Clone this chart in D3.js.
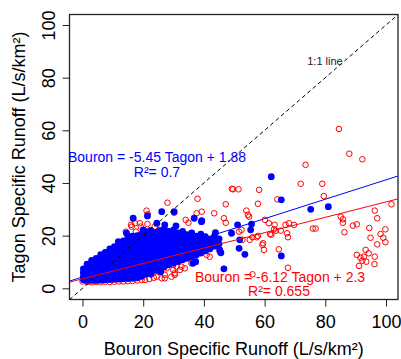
<!DOCTYPE html>
<html><head><meta charset="utf-8">
<script src="https://cdn.jsdelivr.net/npm/d3@7"></script>
<style>body{margin:0;background:#fff}svg{display:block}text{font-family:"Liberation Sans",Arial,sans-serif}</style>
</head><body>
<svg id="c" width="401" height="359"></svg>
<script>
const xTicks = [0, 20, 40, 60, 80, 100];
const yTicks = [0, 20, 40, 60, 80, 100];
const xTitle = "Bouron Specific Runoff (L/s/km²)";
const yTitle = "Tagon Specific Runoff (L/s/km²)";
const blueEq = ["Bouron = -5.45 Tagon + 1.88", "R²= 0.7"];
const redEq = ["Bouron = -6.12 Tagon + 2.3", "R²= 0.655"];
const blueFit = [4.3, 0.369];   // intercept, slope as drawn
const redFit = [3.6, 0.292];

const redPoints = [
[84.5,60.5],[87.9,51.1],[92.2,49.0],[79.0,39.7],[79.5,35.0],[101.8,31.9],[96.3,29.5],[85.1,27.2],[85.8,26.2],[85.8,24.9],[97.1,26.6],[76.8,22.7],[86.3,21.3],[89.1,23.8],[90.4,24.3],[94.5,22.9],[99.8,22.4],[98.2,20.6],[99.1,19.2],[94.9,19.2],[97.1,16.7],[99.8,17.5],[93.3,14.6],[90.4,12.7],[91.6,11.6],[92.7,12.0],[94.3,13.3],[96.3,12.0],[92.2,10.5],[93.5,10.1],[91.1,8.5],[96.2,9.2],
[73.5,46.9],[71.9,39.7],[51.4,37.6],[49.6,37.6],[58.2,37.4],[64.2,33.8],[57.8,32.1],[54.0,29.5],[54.5,27.9],[60.1,26.0],[61.4,24.7],[68.0,24.7],[66.9,24.1],[69.7,24.1],[51.6,21.5],[63.1,22.4],[63.7,21.9],[65.3,21.9],[67.7,19.4],[75.9,22.7],[61.8,20.6],[57.4,19.4],[56.0,19.4],[55.1,18.4],[52.7,18.4],[59.3,16.5],[59.8,14.6],[64.7,14.8],[67.7,7.8],[56.0,5.3],
[28.0,32.5],[37.9,34.0],[47.2,31.9],[49.2,37.8],[30.2,28.7],[43.4,28.5],[39.3,29.1],[34.0,26.0],[34.9,24.9],[46.6,26.6],[47.2,24.9],[21.5,28.1],[21.4,24.4],[54.9,27.2],[52.4,22.2],[57.8,19.9],[59.5,17.1],[63.3,24.1],[67.4,20.9],[62.2,20.3],
[21.1,29.5],[18.9,24.7],[16.2,23.4],[17.3,24.7],[14.3,21.5],[23.8,23.4],[25.3,22.2],[32.1,18.4],[23.3,14.6],[37.6,28.5],[16.0,24.1],[17.6,21.5],[19.2,23.4],[19.8,19.6],[14.9,19.0],[12.7,16.1],[20.3,17.1],
[0.0,2.6],[0.3,3.8],[0.6,5.0],[1.5,8.0],[1.5,2.4],[3,2.3],[4.5,2.4],[6,2.3],[7.5,2.5],[9,2.4],[10.5,2.5],[12,2.6],[13.5,2.6],[15,2.7],[16.5,2.8],[18,3.0],[19.5,3.2],[20.6,3.2],[22,3.5],[23.5,4.0],[24.4,4.4],[26.1,3.8],[27.1,3.8],[29.3,4.4],[30.4,5.1],[30.4,5.7],[27.1,5.1],[25.5,6.3],[32.1,7.0],[29.9,7.0],[31.0,8.2],[32.6,8.2],[23.8,8.2],[24.9,8.9],[26.1,8.2],[26.6,9.5],[27.7,7.6],[29.9,8.9],[31.0,10.1],[32.6,10.8],[35.9,9.5],[33.7,7.6],[36.4,13.3],[40.9,12.7],[41.9,12.0],[45.2,13.9]
];

const blueOutliers = [
[62.2,42.4],[65.5,33.6],[75.2,30.0],[81.0,31.0],[51.1,24.1],[55.7,24.4],[55.4,22.2],[51.8,18.4],[51.6,15.2],[53.5,12.9],[65.5,12.3],[43.8,21.1],[49.1,20.9],[39.2,25.3],[45.2,14.6],[39.2,13.9],[46.6,7.4],[26.1,29.1],[30.2,29.1],[36.8,26.6],[39.3,25.7],[16.7,26.6],[11.8,17.7],[14.5,20.9],[20.0,22.2],[21.4,27.5],[27.1,24.1],[24.5,24.7],[30.8,23.7],[36.2,18.4],[41.2,18.1],[39.5,15.8],[45.6,13.5],[32.4,13.3],[36.8,12.7],[37.3,10.1],[36.4,9.5],[22.5,5.4],[25.8,6.3],[21.4,11.4]
];

// dense cluster, one entry per Bouron value: [x, [Tagon values]]
const blueCluster = [
[0.3,[3.2,4.6,6.0,7.4]],
[1.5,[3.0,4.6,6.2,7.8,9.2]],
[3.0,[3.0,4.6,6.2,7.8,9.4,10.6]],
[4.5,[3.0,4.7,6.4,8.1,9.8,11.4]],
[6.0,[3.1,4.8,6.5,8.2,9.9,11.6,12.8]],
[7.5,[3.2,4.9,6.6,8.3,10.0,11.7,13.6]],
[9.0,[3.3,5.0,6.8,8.6,10.4,12.2,14.0,15.0]],
[10.5,[3.4,5.2,7.0,8.8,10.6,12.4,14.2,15.8]],
[12.0,[3.5,5.3,7.1,8.9,10.7,12.5,14.3,16.1,17.4]],
[13.5,[3.6,5.4,7.2,9.0,10.8,12.6,14.4,16.2,18.0]],
[15.0,[3.7,5.5,7.3,9.1,10.9,12.7,14.5,16.3,18.1,19.6]],
[16.5,[3.8,5.6,7.4,9.2,11.0,12.8,14.6,16.4,18.2,19.8]],
[18.0,[4.0,5.8,7.6,9.4,11.2,13.0,14.8,16.6,18.4,20.0]],
[19.5,[4.5,6.3,8.1,9.9,11.7,13.5,15.3,17.1,18.9,20.6]],
[21.0,[5.5,7.3,9.1,10.9,12.7,14.5,16.3,18.1,19.9,21.5]],
[22.5,[6.0,7.8,9.6,11.4,13.2,15.0,16.8,18.6,20.4,22.0]],
[24.0,[6.8,8.6,10.4,12.2,14.0,15.8,17.6,19.4,21.2]],
[25.5,[7.5,9.3,11.1,12.9,14.7,16.5,18.3,20.1,21.9]],
[27.0,[8.2,10.0,11.8,13.6,15.4,17.2,19.0,20.8,22.6]],
[28.5,[9.0,10.8,12.6,14.4,16.2,18.0,19.8,21.6]],
[30.0,[9.6,11.4,13.2,15.0,16.8,18.6,20.4,22.2]],
[31.5,[10.2,12.0,13.8,15.6,17.4,19.2,21.0]],
[33.0,[10.8,12.6,14.4,16.2,18.0,19.8,21.6]],
[34.5,[11.4,13.2,15.0,16.8,18.6,20.4]],
[36.0,[12.0,13.8,15.6,17.4,19.2,21.0]],
[37.5,[12.6,14.4,16.2,18.0,19.8]],
[39.0,[13.4,15.2,17.0,18.8,20.6]],
[40.5,[14.2,16.0,17.8,19.6]],
[42.0,[15.0,16.8,18.6]],
[43.5,[16.0,17.8,19.8]],
[45.0,[16.8,18.8]]
];

const bluePoints = blueOutliers.concat(blueCluster.flatMap(([x, ys]) => ys.map(y => [x, y])));

const svg = d3.select("#c");
const x = d3.scaleLinear().domain([0, 100]).range([82.5, 386]);
const y = d3.scaleLinear().domain([0, 100]).range([288.3, 25]);
const L = 69.5, R = 398, T = 14.5, B = 299.5;
const xmin = x.invert(L), xmax = x.invert(R);

svg.append("defs").append("clipPath").attr("id","clip")
  .append("rect").attr("x",L).attr("y",T).attr("width",R-L).attr("height",B-T);

const g = svg.append("g").attr("clip-path","url(#clip)");

g.selectAll("circle.r").data(redPoints).join("circle").attr("class","r")
  .attr("cx",d=>x(d[0])).attr("cy",d=>y(d[1])).attr("r",2.8)
  .attr("fill","none").attr("stroke","#ff0000").attr("stroke-width",1);

g.selectAll("circle.b").data(bluePoints).join("circle").attr("class","b")
  .attr("cx",d=>x(d[0])).attr("cy",d=>y(d[1])).attr("r",3.4)
  .attr("fill","#0000ff");

// 1:1 line
g.append("line").attr("x1",x(xmin)).attr("y1",y(xmin)).attr("x2",x(xmax)).attr("y2",y(xmax))
  .attr("stroke","#000").attr("stroke-width",1).attr("stroke-dasharray","4,3");
// fits
[[blueFit,"#0000ff"],[redFit,"#ff0000"]].forEach(([f,c])=>{
  g.append("line").attr("x1",x(xmin)).attr("y1",y(f[0]+f[1]*xmin))
   .attr("x2",x(xmax)).attr("y2",y(f[0]+f[1]*xmax))
   .attr("stroke",c).attr("stroke-width",1);
});

// box
svg.append("rect").attr("x",L).attr("y",T).attr("width",R-L).attr("height",B-T)
  .attr("fill","none").attr("stroke","#222").attr("stroke-width",1.3);

// axes
const xa = svg.append("g").attr("transform",`translate(0,${B})`)
  .call(d3.axisBottom(x).tickValues(xTicks).tickSize(7).tickPadding(0).tickFormat(d3.format("d")));
xa.select(".domain").remove();
xa.selectAll("line").attr("stroke","#222");
xa.selectAll("text").attr("font-size",18).attr("fill","#000").attr("dy",null).attr("y",28.8);

const ya = svg.append("g").attr("transform",`translate(${L},0)`)
  .call(d3.axisLeft(y).tickValues(yTicks).tickSize(7).tickFormat(d3.format("d")));
ya.select(".domain").remove();
ya.selectAll("line").attr("stroke","#222");
ya.selectAll("text").attr("font-size",18).attr("fill","#000")
  .attr("x",null).attr("dy",null).attr("text-anchor","middle")
  .attr("transform","translate(-14.5,0) rotate(-90)");

svg.append("text").attr("x",(L+R)/2).attr("y",354.5).attr("text-anchor","middle")
  .attr("font-size",18).text(xTitle);
svg.append("text").attr("transform",`translate(24.5,${(T+B)/2}) rotate(-90)`)
  .attr("text-anchor","middle").attr("font-size",18).text(yTitle);

// annotations
svg.append("text").attr("x",157).attr("y",162).attr("text-anchor","middle").attr("font-size",14).attr("fill","#0000ff").text(blueEq[0]);
svg.append("text").attr("x",157).attr("y",176.5).attr("text-anchor","middle").attr("font-size",14).attr("fill","#0000ff").text(blueEq[1]);
svg.append("text").attr("x",280).attr("y",281.5).attr("text-anchor","middle").attr("font-size",14).attr("fill","#ff0000").text(redEq[0]);
svg.append("text").attr("x",279).attr("y",296).attr("text-anchor","middle").attr("font-size",14).attr("fill","#ff0000").text(redEq[1]);
svg.append("text").attr("x",325).attr("y",64.5).attr("text-anchor","middle").attr("font-size",11).attr("fill","#222").text("1:1 line");
</script>
</body></html>
